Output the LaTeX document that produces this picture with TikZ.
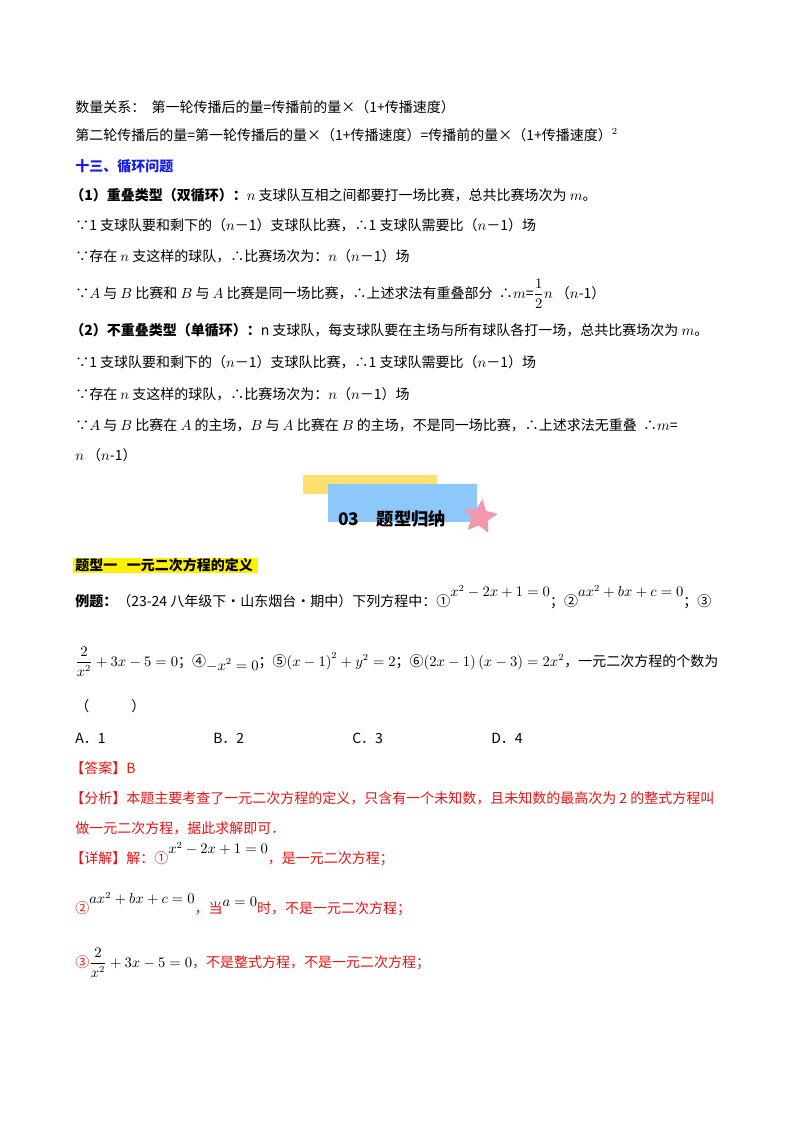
\documentclass[tikz,border=0pt]{standalone}
\usepackage{amsmath}
\usepackage{fontspec}
\setmainfont{Noto Sans CJK SC}
\usetikzlibrary{shapes.geometric}
\definecolor{hblue}{RGB}{20,30,230}
\definecolor{ansred}{RGB}{230,20,20}
\definecolor{ylw}{RGB}{255,224,110}
\definecolor{lblue}{RGB}{140,200,250}
\definecolor{pinkstar}{RGB}{245,150,175}
\begin{document}
\begin{tikzpicture}[x=0.75pt,y=-0.75pt,
  t/.style={anchor=base west,inner sep=0pt,font=\fontsize{10.5pt}{12pt}\selectfont},
  r/.style={t,text=ansred}]
\useasboundingbox (0,0) rectangle (800,1132);
\fill[white] (0,0) rectangle (800,1132);
\node[t] (l1) at (75,112) {数量关系：\ \ 第一轮传播后的量=传播前的量×（1+传播速度）};
\node[t] (l2) at (75,140) {第二轮传播后的量=第一轮传播后的量×（1+传播速度）=传播前的量×（1+传播速度）$^{2}$};
\node[t,text=hblue,font=\fontsize{10.5pt}{12pt}\selectfont\bfseries] (h13) at (75,171) {十三、循环问题};
\node[t] (l3) at (70,200) {\textbf{（1）重叠类型（双循环）：}$n$ 支球队互相之间都要打一场比赛，总共比赛场次为 $m$。};
\node[t] (l4) at (75,230) {∵1 支球队要和剩下的（$n$－1）支球队比赛，∴1 支球队需要比（$n$－1）场};
\node[t] (l5) at (75,261) {∵存在 $n$ 支这样的球队，∴比赛场次为：$n$（$n$－1）场};
\node[t] (l6) at (75,298) {∵$A$ 与 $B$ 比赛和 $B$ 与 $A$ 比赛是同一场比赛，∴上述求法有重叠部分\ \ ∴$m$=$\dfrac{1}{2}$$n$\ \textit{（$n$-1）}};
\node[t] (l7) at (70,335) {\textbf{（2）不重叠类型（单循环）：}n 支球队，每支球队要在主场与所有球队各打一场，总共比赛场次为 $m$。};
\node[t] (l8) at (75,367) {∵1 支球队要和剩下的（$n$－1）支球队比赛，∴1 支球队需要比（$n$－1）场};
\node[t] (l9) at (75,399) {∵存在 $n$ 支这样的球队，∴比赛场次为：$n$（$n$－1）场};
\node[t] (l10) at (75,430) {∵$A$ 与 $B$ 比赛在 $A$ 的主场，$B$ 与 $A$ 比赛在 $B$ 的主场，不是同一场比赛，∴上述求法无重叠\ \ ∴$m$=};
\node[t] (l11) at (75,460) {$n$\ \textit{（$n$-1）}};
% header
\fill[ylw] (303,475) rectangle (437,494);
\fill[lblue] (328,484) rectangle (477,522);
\node[star,star points=5,star point ratio=2.1,fill=pinkstar,minimum size=27pt,inner sep=0pt,rotate=-8] (st) at (480,517) {};
\node[t,font=\fontsize{13pt}{15pt}\selectfont\bfseries] (h03) at (338,525) {03\quad 题型归纳};
% problem
\fill[yellow] (73,558) rectangle (258,573);
\node[t,font=\fontsize{10.5pt}{12pt}\selectfont\bfseries] (tx1) at (75,570) {题型一\ \ \ 一元二次方程的定义};
\node[t] (ex) at (75,606) {\textbf{例题：}（23-24 八年级下·山东烟台·期中）下列方程中：①\raisebox{7pt}{$x^2-2x+1=0$}；②\raisebox{7pt}{$ax^2+bx+c=0$}；③};
\node[t] (ex2) at (75,666) {$\dfrac{2}{x^2}+3x-5=0$；④\raisebox{-3pt}{$-x^2=0$}；⑤$\left(x-1\right)^2+y^2=2$；⑥$\left(2x-1\right)\left(x-3\right)=2x^2$，一元二次方程的个数为};
\node[t] (par) at (75,711) {（\qquad\quad ）};
\node[t] (oa) at (75,743) {A．1};
\node[t] (ob) at (213,743) {B．2};
\node[t] (oc) at (352,743) {C．3};
\node[t] (od) at (491,743) {D．4};
\node[r] (ans) at (70,773) {【答案】B};
\node[r] (an1) at (70,803) {【分析】本题主要考查了一元二次方程的定义，只含有一个未知数，且未知数的最高次为 2 的整式方程叫};
\node[r] (an2) at (75,833) {做一元二次方程，据此求解即可．};
\node[r] (d1) at (70,863) {【详解】解：①\raisebox{7pt}{\color{black}$x^2-2x+1=0$}，是一元二次方程；};
\node[r] (d2) at (75,913) {②\raisebox{7pt}{\color{black}$ax^2+bx+c=0$}，当\raisebox{5pt}{\color{black}$a=0$}时，不是一元二次方程；};
\node[r] (d3) at (75,967) {③{\color{black}$\dfrac{2}{x^2}+3x-5=0$}，不是整式方程，不是一元二次方程；};
\end{tikzpicture}
\end{document}
